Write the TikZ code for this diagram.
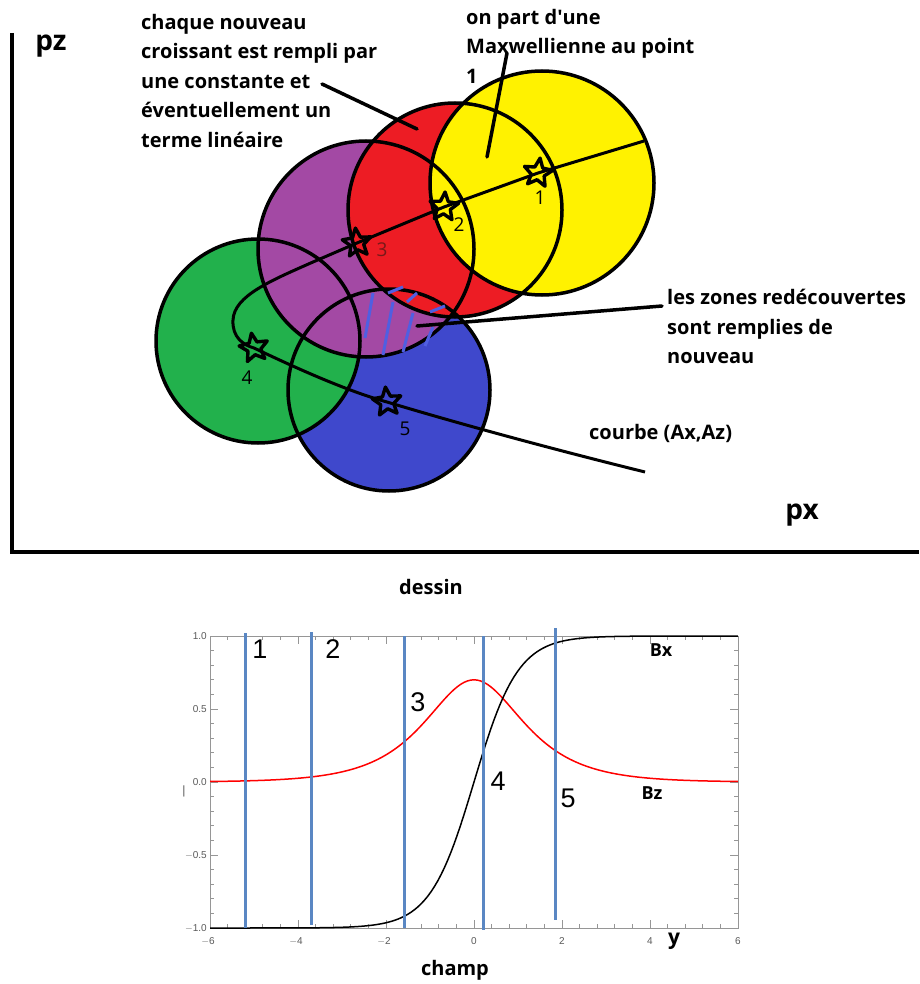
\documentclass[tikz,border=0pt]{standalone}
\usepackage{fontspec}
\setmainfont{Open Sans}
\newfontfamily\arialf{Liberation Sans}
\usetikzlibrary{shapes.geometric}
\definecolor{pyellow}{HTML}{FFF200}
\definecolor{pred}{HTML}{ED1C24}
\definecolor{ppurple}{HTML}{A349A4}
\definecolor{pgreen}{HTML}{22B14C}
\definecolor{pblue}{HTML}{3F48CC}
\definecolor{hatchblue}{RGB}{80,95,225}
\definecolor{vline}{RGB}{90,135,195}
\definecolor{framegray}{RGB}{150,150,150}
\definecolor{ticktxt}{RGB}{90,90,90}
\definecolor{darkred}{RGB}{120,25,25}
\tikzset{
  lbl/.style={font=\bfseries\fontsize{20}{29.5}\selectfont, align=left, inner sep=0pt},
  biglbl/.style={font=\bfseries\fontsize{28}{30}\selectfont, inner sep=0pt},
  circ/.style={line width=3.5pt, draw=black},
  pointer/.style={line width=3.5pt, line cap=round},
  curvepath/.style={line width=3pt, line join=round},
  starnode/.style={star, star points=5, star point ratio=2.2, minimum size=30pt, inner sep=0pt, draw=black, line width=3.4pt, line join=round},
  starlbl/.style={font=\fontsize{19}{20}\selectfont, inner sep=0pt},
  hatch/.style={hatchblue, line width=3pt},
  vl/.style={vline, line width=3pt},
  plotnum/.style={font=\arialf\fontsize{27}{30}\selectfont, inner sep=0pt},
  ticklbl/.style={font=\arialf\fontsize{10}{10}\selectfont, text=ticktxt, inner sep=0pt},
  smalllbl/.style={font=\bfseries\fontsize{18}{20}\selectfont, inner sep=0pt}
}
\begin{document}
\begin{tikzpicture}[x=1pt,y=-1pt]
\useasboundingbox[fill=white] (0,0) rectangle (919,984);

% ---------- axes of the drawing ----------
\coordinate (ax0) at (12,552);
\coordinate (axtop) at (12,33);
\coordinate (axright) at (919,552);
\draw[line width=4pt] (axtop) -- (ax0) -- (axright);
\node[biglbl] (pz) at (51,46) {pz};
\node[biglbl] (px) at (802,515) {px};
\node[lbl] (dessin) at (431,587) {dessin};

% ---------- circles: fills ----------
\fill[pblue]   (389,390) circle[radius=101pt];
\fill[pgreen]  (258,341) circle[radius=102pt];
\fill[ppurple] (366,249) circle[radius=108pt];
\fill[pred]    (455,210) circle[radius=107pt];
\fill[pyellow] (542,183) circle[radius=112pt];
% ---------- circles: outlines ----------
\draw[circ] (389,390) circle[radius=101pt];
\draw[circ] (258,341) circle[radius=102pt];
\draw[circ] (366,249) circle[radius=108pt];
\draw[circ] (455,210) circle[radius=107pt];
\draw[circ] (542,183) circle[radius=112pt];

% ---------- hatching of the uncovered zone ----------
\draw[hatch] (373,293) -- (365,338);
\draw[hatch] (393,302) -- (383,355);
\draw[hatch] (413,313) -- (403,352);
\draw[hatch] (433,327) -- (425,346);
\draw[hatch] (388,293) -- (403,287);
\draw[hatch] (407,302) -- (417,293);
\draw[hatch] (430,312) -- (445,306);

% ---------- curve (Ax,Az) ----------
\coordinate (c1) at (538,173);
\coordinate (c2) at (444,207);
\coordinate (c3) at (357,243);
\coordinate (c4) at (254,348);
\coordinate (c5) at (387,402);
\coordinate (e1) at (644,141);
\coordinate (e2) at (645,472);
\draw[curvepath] (e1) -- (c1) -- (c2) -- (c3) -- (313,262)
  .. controls (270,281) and (234,296) .. (233,320)
  .. controls (232,337) and (243,345) .. (c4)
  .. controls (300,370) and (350,392) .. (c5)
  .. controls (450,421) and (540,446) .. (e2);

% ---------- stars ----------
\node[starnode, rotate=-8] (s1) at (c1) {};
\node[starnode, rotate=-4] (s2) at (c2) {};
\node[starnode, rotate=6] (s3) at (c3) {};
\node[starnode, rotate=10] (s4) at (c4) {};
\node[starnode, rotate=6] (s5) at (c5) {};
\node[starlbl] (l1) at (540,198) {1};
\node[starlbl] (l2) at (459,225) {2};
\node[starlbl, text=darkred] (l3) at (382,250) {3};
\node[starlbl] (l4) at (247,378) {4};
\node[starlbl] (l5) at (405,429) {5};

% ---------- annotations ----------
\node[lbl, anchor=north west] (t1) at (141,14) {chaque nouveau\\croissant est rempli par\\une constante et\\éventuellement un\\terme linéaire};
\node[lbl, anchor=north west] (t2) at (466,9) {on part d\textquotesingle une\\Maxwellienne au point\\1};
\node[lbl, anchor=north west] (t3) at (667,289) {les zones redécouvertes\\sont remplies de\\nouveau};
\node[lbl, anchor=west] (t4) at (589,433) {courbe (Ax,Az)};
\coordinate (p1a) at (322,84);
\coordinate (p1b) at (417,129);
\coordinate (p2a) at (507,53);
\coordinate (p2b) at (487,157);
\coordinate (p3a) at (417,326);
\coordinate (p3b) at (662,306);
\draw[pointer] (p1a) -- (p1b);
\draw[pointer] (p2a) -- (p2b);
\draw[pointer] (p3a) -- (p3b);

% ---------- field plot ----------
\draw[framegray, line width=1pt] (210,636) rectangle (738,928);
\foreach \t in {-6,-5.6,...,6.1} {
  \draw[framegray, line width=0.8pt] ({474+44*\t},928) -- ({474+44*\t},924);
  \draw[framegray, line width=0.8pt] ({474+44*\t},636) -- ({474+44*\t},640);
}
\foreach \t in {-6,-4,...,6} {
  \draw[framegray, line width=0.8pt] ({474+44*\t},928) -- ({474+44*\t},920);
  \draw[framegray, line width=0.8pt] ({474+44*\t},636) -- ({474+44*\t},644);
}
\foreach \v in {-1,-0.9,...,1.05} {
  \draw[framegray, line width=0.8pt] (210,{782-146*\v}) -- (214,{782-146*\v});
  \draw[framegray, line width=0.8pt] (738,{782-146*\v}) -- (734,{782-146*\v});
}
\foreach \v in {-1,-0.5,0,0.5,1} {
  \draw[framegray, line width=0.8pt] (210,{782-146*\v}) -- (218,{782-146*\v});
  \draw[framegray, line width=0.8pt] (738,{782-146*\v}) -- (730,{782-146*\v});
}
\node[ticklbl, anchor=east] (ty1) at (207,636) {1.0};
\node[ticklbl, anchor=east] (ty2) at (207,709) {0.5};
\node[ticklbl, anchor=east] (ty3) at (207,782) {0.0};
\node[ticklbl, anchor=east] (ty4) at (207,855) {$-$0.5};
\node[ticklbl, anchor=east] (ty5) at (207,928) {$-$1.0};
\node[ticklbl] (tx1) at (208,941) {$-$6};
\node[ticklbl] (tx2) at (296,941) {$-$4};
\node[ticklbl] (tx3) at (384,941) {$-$2};
\node[ticklbl] (tx4) at (474,941) {0};
\node[ticklbl] (tx5) at (562,941) {2};
\node[ticklbl] (tx6) at (650,941) {4};
\node[ticklbl] (tx7) at (738,941) {6};
\node[ticklbl, font=\arialf\fontsize{12}{12}\selectfont] (bar) at (184,791) {|};

% curves
\draw[red, line width=1.5pt] plot[domain=-6:6, samples=161] ({474+44*\x},{782-146*0.7/cosh(\x)});
\draw[black, line width=1.5pt] plot[domain=-6:6, samples=161] ({474+44*\x},{782-146*tanh(\x)});

% vertical lines
\draw[vl] (245,633) -- (245,928);
\draw[vl] (311,632) -- (311,925);
\draw[vl] (404,636) -- (404,928);
\draw[vl] (483,636) -- (483,930);
\draw[vl] (555,628) -- (555,920);

\node[plotnum] (n1) at (260,649) {1};
\node[plotnum] (n2) at (333,649) {2};
\node[plotnum] (n3) at (418,702) {3};
\node[plotnum] (n4) at (498,781) {4};
\node[plotnum] (n5) at (568,798) {5};
\node[smalllbl] (bx) at (661,650) {Bx};
\node[smalllbl] (bz) at (652,793) {Bz};
\node[smalllbl, font=\bfseries\fontsize{21}{22}\selectfont] (ylab) at (674,941) {y};
\node[lbl] (champ) at (455,970) {champ};
\end{tikzpicture}
\end{document}
